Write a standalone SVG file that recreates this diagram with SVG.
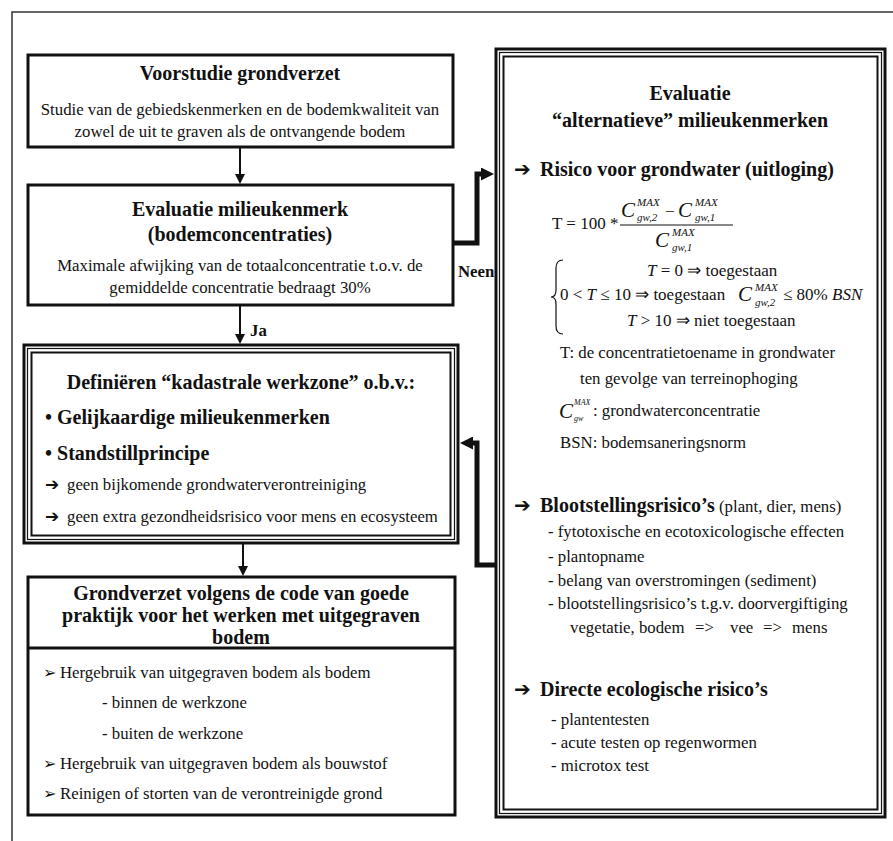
<svg xmlns="http://www.w3.org/2000/svg" width="893" height="841" viewBox="0 0 893 841">
<defs>
<style>
text { font-family: "Liberation Serif", "Times New Roman", serif; fill: #111; }
.t { font-size: 20px; font-weight: bold; text-anchor: middle; }
.b { font-size: 16.8px; }
.m { text-anchor: middle; }
.bb { font-size: 20px; font-weight: bold; }
.h { font-size: 20px; font-weight: bold; }
.sym { font-family: "DejaVu Sans", sans-serif; }
.it { font-style: italic; }
.sup { font-size: 11px; font-style: italic; }
.cc { font-size: 21px; font-style: italic; }
.box { fill: #fff; stroke: #111; stroke-width: 3; }
.mid { fill: none; stroke: #111; stroke-width: 1.2; }
.inn { fill: none; stroke: #111; stroke-width: 2; }
.conn { fill: none; stroke: #111; stroke-width: 2; }
.thick { fill: none; stroke: #111; stroke-width: 5; stroke-linejoin: miter; }
.frame { fill: none; stroke: #333; stroke-width: 1.5; }
</style>
<marker id="ah" viewBox="0 0 10 10" refX="0" refY="5" markerWidth="10" markerHeight="10" markerUnits="userSpaceOnUse" orient="auto"><path d="M0,0 L10,5 L0,10 Z" fill="#111"/></marker>
<marker id="ahb" viewBox="0 0 10 10" refX="0" refY="5" markerWidth="14" markerHeight="13" markerUnits="userSpaceOnUse" orient="auto"><path d="M0,0 L10,5 L0,10 Z" fill="#111"/></marker>
</defs>
<rect x="0" y="0" width="893" height="841" fill="#fff"/>
<path class="frame" d="M12 841 L12 12 L893 12"/>

<g id="connectors">
<path class="conn" d="M240 147 L240 174" marker-end="url(#ah)"/>
<path class="conn" d="M240 305 L240 334" marker-end="url(#ah)"/>
<path class="conn" d="M243 543 L243 566" marker-end="url(#ah)"/>
<path class="thick" d="M453 243 L477 243 L477 174 L481 174" marker-end="url(#ahb)"/>
<path class="thick" d="M496 565 L477 565 L477 443 L473 443" marker-end="url(#ahb)"/>
<text class="b" x="250" y="336" font-weight="bold">Ja</text>
<text class="b" x="458" y="277" font-weight="bold">Neen</text>
</g>

<g id="voorstudie">
<rect class="box" x="28" y="55" width="425" height="92"/>
<text class="t" x="240" y="80">Voorstudie grondverzet</text>
<text class="b m" x="240" y="115">Studie van de gebiedskenmerken en de bodemkwaliteit van</text>
<text class="b m" x="240" y="137">zowel de uit te graven als de ontvangende bodem</text>
</g>

<g id="evaluatie-milieukenmerk">
<rect class="box" x="28" y="185" width="425" height="120"/>
<text class="t" x="240" y="216">Evaluatie milieukenmerk</text>
<text class="t" x="240" y="241">(bodemconcentraties)</text>
<text class="b m" x="240" y="271">Maximale afwijking van de totaalconcentratie t.o.v. de</text>
<text class="b m" x="240" y="293">gemiddelde concentratie bedraagt 30%</text>
</g>

<g id="definieren">
<rect class="box" x="24" y="345" width="434" height="198"/>
<rect class="mid" x="27.5" y="348.5" width="427" height="191"/>
<rect class="inn" x="31.5" y="352.5" width="419" height="183"/>
<text class="t" x="241" y="389">Definiëren “kadastrale werkzone” o.b.v.:</text>
<text class="bb" x="45" y="424">• Gelijkaardige milieukenmerken</text>
<text class="bb" x="45" y="460">• Standstillprincipe</text>
<text class="b" x="45" y="490"><tspan class="sym" font-size="17" font-weight="bold">➔</tspan><tspan x="67">geen bijkomende grondwaterverontreiniging</tspan></text>
<text class="b" x="45" y="522"><tspan class="sym" font-size="17" font-weight="bold">➔</tspan><tspan x="67">geen extra gezondheidsrisico voor mens en ecosysteem</tspan></text>
</g>

<g id="grondverzet">
<rect class="box" x="28" y="577" width="427" height="238"/>
<line x1="28" y1="648" x2="455" y2="648" stroke="#111" stroke-width="3"/>
<text class="t" x="241" y="600">Grondverzet volgens de code van goede</text>
<text class="t" x="241" y="622">praktijk voor het werken met uitgegraven</text>
<text class="t" x="241" y="644">bodem</text>
<text class="b" x="43" y="678"><tspan class="sym" font-size="16">➢</tspan><tspan x="60">Hergebruik van uitgegraven bodem als bodem</tspan></text>
<text class="b" x="102" y="708">- binnen de werkzone</text>
<text class="b" x="102" y="739">- buiten de werkzone</text>
<text class="b" x="43" y="769"><tspan class="sym" font-size="16">➢</tspan><tspan x="60">Hergebruik van uitgegraven bodem als bouwstof</tspan></text>
<text class="b" x="43" y="799"><tspan class="sym" font-size="16">➢</tspan><tspan x="60">Reinigen of storten van de verontreinigde grond</tspan></text>
</g>

<g id="evaluatie-alternatief">
<rect class="box" x="496" y="49" width="389" height="768"/>
<rect class="mid" x="499.5" y="52.5" width="382" height="761"/>
<rect class="inn" x="503.5" y="56.5" width="374" height="753"/>
<text class="t" x="690" y="100">Evaluatie</text>
<text class="t" x="690" y="127">“alternatieve” milieukenmerken</text>

<text class="h" x="514" y="176"><tspan class="sym" font-size="20">➔</tspan><tspan x="540">Risico voor grondwater (uitloging)</tspan></text>

<text x="552" y="229" font-size="17">T = 100 *</text>
<text x="621" y="217" class="cc">C</text>
<text x="637" y="206" class="sup">MAX</text>
<text x="637" y="221" class="sup">gw,2</text>
<text x="665" y="217" font-size="17">−</text>
<text x="678" y="217" class="cc">C</text>
<text x="695" y="206" class="sup">MAX</text>
<text x="695" y="221" class="sup">gw,1</text>
<line x1="620" y1="225" x2="733" y2="225" stroke="#111" stroke-width="1"/>
<text x="655" y="247" class="cc">C</text>
<text x="672" y="236" class="sup">MAX</text>
<text x="672" y="251" class="sup">gw,1</text>

<path class="mid" d="M563 260 Q556 260 556 268 L556 290 Q556 297 551 297 Q556 297 556 304 L556 326 Q556 334 563 334"/>
<text x="647" y="276" font-size="17"><tspan class="it">T</tspan> = 0 ⇒ toegestaan</text>
<text x="560" y="300" font-size="17">0 &lt; <tspan class="it">T</tspan> ≤ 10 ⇒ toegestaan</text>
<text x="738" y="301" class="cc">C</text>
<text x="755" y="291" class="sup">MAX</text>
<text x="755" y="306" class="sup">gw,2</text>
<text x="783" y="300" font-size="17">≤ 80% <tspan class="it">BSN</tspan></text>
<text x="627" y="326" font-size="17"><tspan class="it">T</tspan> &gt; 10 ⇒ niet toegestaan</text>

<text class="b" x="560" y="358">T: de concentratietoename in grondwater</text>
<text class="b" x="580" y="384">ten gevolge van terreinophoging</text>
<text x="559" y="418" font-size="21" class="it">C</text>
<text x="574" y="405" font-size="8" class="it">MAX</text>
<text x="574" y="421" font-size="8" class="it">gw</text>
<text class="b" x="593" y="416">: grondwaterconcentratie</text>
<text class="b" x="560" y="448">BSN: bodemsaneringsnorm</text>

<text class="h" x="514" y="512"><tspan class="sym" font-size="20">➔</tspan><tspan x="540">Blootstellingsrisico’s</tspan><tspan font-size="16.8" font-weight="normal"> (plant, dier, mens)</tspan></text>
<text class="b" x="548" y="537">- fytotoxische en ecotoxicologische effecten</text>
<text class="b" x="548" y="562">- plantopname</text>
<text class="b" x="548" y="586">- belang van overstromingen (sediment)</text>
<text class="b" x="548" y="609">- blootstellingsrisico’s t.g.v. doorvergiftiging</text>
<text class="b" x="570" y="633">vegetatie, bodem<tspan x="695">=&gt;</tspan><tspan x="730">vee</tspan><tspan x="763">=&gt;</tspan><tspan x="792">mens</tspan></text>

<text class="h" x="514" y="696"><tspan class="sym" font-size="20">➔</tspan><tspan x="540">Directe ecologische risico’s</tspan></text>
<text class="b" x="551" y="725">- plantentesten</text>
<text class="b" x="551" y="748">- acute testen op regenwormen</text>
<text class="b" x="551" y="771">- microtox test</text>
</g>
</svg>
